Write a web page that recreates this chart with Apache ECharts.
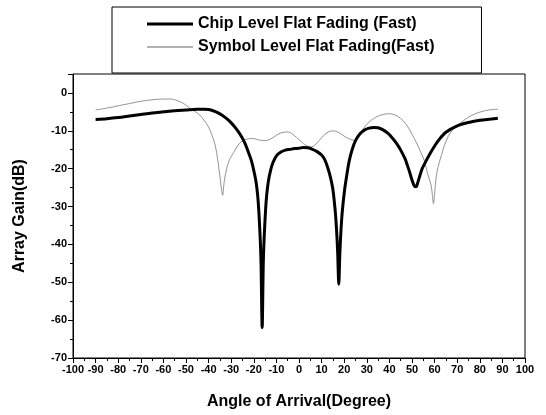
<!DOCTYPE html>
<html>
<head>
<meta charset="utf-8">
<script src="https://cdn.jsdelivr.net/npm/echarts@6/dist/echarts.min.js"></script>
<style>html,body{margin:0;padding:0;background:#fff;}#c{width:546px;height:415px;}</style>
</head>
<body>
<div id="c"></div>
<script>
var chipName = 'Chip Level Flat Fading (Fast)';
var symName = 'Symbol Level Flat Fading(Fast)';
var xTicks = [-100,-90,-80,-70,-60,-50,-40,-30,-20,-10,0,10,20,30,40,50,60,70,80,90,100];
var yTicks = [0,-10,-20,-30,-40,-50,-60,-70];

var chipX = [-90,-85,-80,-75,-70,-65,-60,-55,-50,-45,-42,-40,-38,-36,-34,-32,-30,-28,-26,-24,-22,-21,-20,-19,-18.3,-17.8,-17.2,-16.8,-16.3,-15.8,-15.4,-14.8,-14.3,-13.6,-12.6,-11.6,-10,-8,-6,-4,-2,0,2,4,6,8,10,11,12,13,14,15,16,16.6,17.1,17.6,18.1,18.6,19.2,20.2,21.2,22.2,23.5,25,27,29,31,33,35,37,39,41,43,45,47,48,49,50,51,51.8,52.5,53.5,54.5,56,58,60,62,65,70,75,80,85,88];
var chipY = [-7.0,-6.8,-6.5,-6.1,-5.7,-5.3,-5.0,-4.7,-4.5,-4.3,-4.3,-4.4,-4.7,-5.2,-5.9,-6.8,-7.9,-9.3,-11.0,-13.2,-16.3,-18.0,-20.5,-23.5,-27,-31,-38,-45,-62,-45,-38,-31,-27,-23.5,-20.5,-18.5,-16.6,-15.6,-15.1,-14.9,-14.7,-14.6,-14.4,-14.5,-14.9,-15.5,-16.4,-17.2,-18.5,-20.3,-22.5,-25.5,-31,-36,-42,-50.5,-42,-36,-31,-25.5,-21.5,-18,-15,-12.6,-10.8,-9.8,-9.3,-9.1,-9.2,-9.7,-10.5,-11.7,-13.2,-15.1,-17.5,-19.2,-21,-23,-24.5,-24.8,-23.8,-21.8,-20,-18.2,-16.0,-14.0,-12.3,-10.4,-8.7,-7.8,-7.2,-6.9,-6.7];

var symX = [-90,-85,-80,-75,-70,-65,-60,-57,-54,-51,-48,-46,-44,-42,-40,-38,-37,-36,-35,-34.5,-33.8,-33.2,-33,-32,-31,-30,-29,-27,-25,-23,-21,-19,-17,-15,-13,-11,-9,-7,-5,-3,-1,1,3,5,7,9,11,13,15,17,19,21,23,24.5,26,28,30,32,34,36,38,40,42,44,46,48,50,52,54,55.5,57,58.5,59.5,60.3,61,62,63,64.3,66,68,70,72,75,78,81,84,88];
var symY = [-4.5,-4.0,-3.4,-2.8,-2.2,-1.8,-1.6,-1.6,-2.0,-2.8,-4.2,-4.9,-5.8,-7.2,-9.0,-12.0,-14.0,-17.5,-22,-24.5,-27,-24,-23,-20,-18,-16.8,-15.8,-13.8,-12.6,-12.2,-12.0,-12.2,-12.5,-12.6,-12.3,-11.6,-10.8,-10.4,-10.3,-10.8,-11.8,-12.9,-13.8,-14.3,-13.8,-12.5,-11.2,-10.3,-10.0,-10.3,-11.0,-11.8,-12.3,-12.5,-11.5,-9.8,-8.3,-7.2,-6.4,-5.9,-5.6,-5.5,-5.7,-6.3,-7.3,-8.8,-10.9,-13.2,-15.8,-18,-21.5,-24.5,-29.2,-24.5,-21,-18.5,-16.5,-13.9,-11.5,-9.7,-8.8,-7.7,-6.4,-5.5,-4.9,-4.5,-4.3];

function pairs(xs, ys){ var out=[]; for(var i=0;i<xs.length;i++){ out.push([xs[i], ys[i]]); } return out; }

var font = 'Liberation Sans, Arial, sans-serif';
var chart = echarts.init(document.getElementById('c'), null, {renderer:'canvas'});
chart.setOption({
  animation: false,
  backgroundColor: '#fff',
  grid: {left: 73, right: 21, top: 74, bottom: 54, show: true, borderColor: '#000', borderWidth: 1},
  legend: {
    orient: 'vertical', left: 112, top: 7,
    padding: [9, 47, 18, 35], itemGap: 7,
    itemWidth: 46, itemHeight: 16, symbolKeepAspect: true,
    backgroundColor: '#fff', borderColor: '#000', borderWidth: 1,
    textStyle: {fontFamily: font, fontSize: 16, fontWeight: 'bold', color: '#000'},
    data: [
      {name: chipName, icon: 'path://M0,0 L46,0 L46,3 L0,3 Z'},
      {name: symName, icon: 'path://M0,0 L46,0 L46,1 L0,1 Z'}
    ]
  },
  xAxis: {
    type: 'value', min: -100, max: 100, interval: 10,
    name: 'Angle of Arrival(Degree)', nameLocation: 'middle', nameGap: 36,
    nameTextStyle: {fontFamily: font, fontSize: 16, fontWeight: 'bold', color: '#000'},
    axisLine: {onZero: false, lineStyle: {color: '#000', width: 1}},
    axisTick: {inside: false, length: 5, lineStyle: {color: '#000'}},
    minorTick: {show: true, splitNumber: 2, length: 3, lineStyle: {color: '#000'}},
    splitLine: {show: false},
    axisLabel: {fontFamily: font, fontSize: 11, fontWeight: 'bold', color: '#000', margin: 6,
      formatter: function(v){ return xTicks.indexOf(v) >= 0 ? String(v) : ''; }}
  },
  yAxis: {
    type: 'value', min: -70, max: 5, interval: 10,
    name: 'Array Gain(dB)', nameLocation: 'middle', nameGap: 45,
    nameTextStyle: {fontFamily: font, fontSize: 16, fontWeight: 'bold', color: '#000'},
    axisLine: {onZero: false, lineStyle: {color: '#000', width: 1}},
    axisTick: {inside: false, length: 5, lineStyle: {color: '#000'}},
    minorTick: {show: true, splitNumber: 2, length: 3, lineStyle: {color: '#000'}},
    splitLine: {show: false},
    axisLabel: {fontFamily: font, fontSize: 11, fontWeight: 'bold', color: '#000', margin: 6, showMaxLabel: false,
      formatter: function(v){ return yTicks.indexOf(v) >= 0 ? String(v) : ''; }}
  },
  series: [
    {name: chipName, type: 'line', data: pairs(chipX, chipY), symbol: 'none', smooth: 0.3,
     lineStyle: {color: '#000', width: 3}, itemStyle: {color: '#000'}, z: 3},
    {name: symName, type: 'line', data: pairs(symX, symY), symbol: 'none', smooth: 0.3,
     lineStyle: {color: '#666', width: 0.7}, itemStyle: {color: '#666'}, z: 2}
  ]
});
</script>
</body>
</html>
